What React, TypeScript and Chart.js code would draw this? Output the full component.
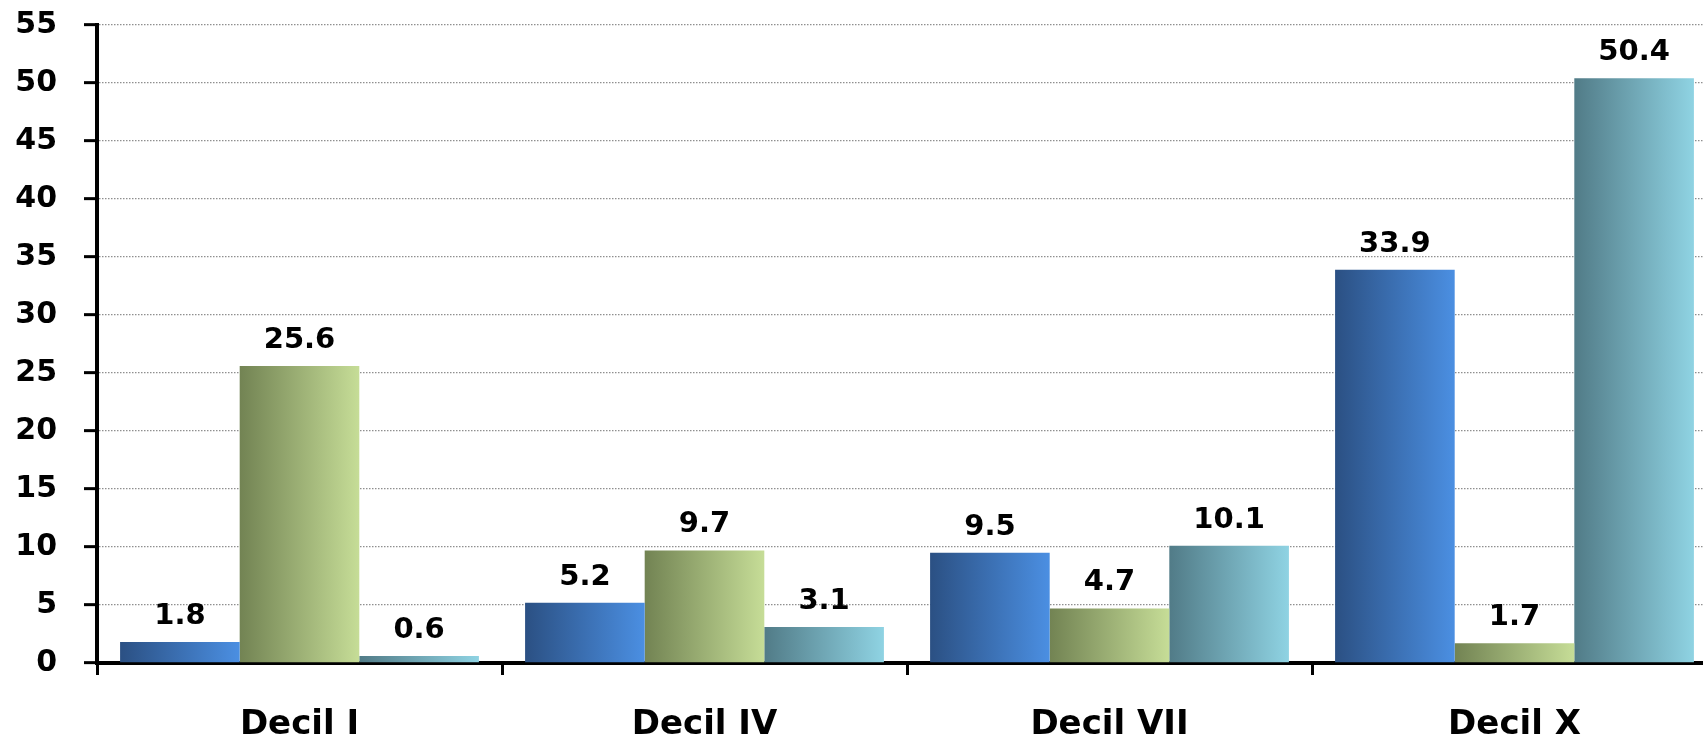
import React, { useEffect, useRef } from "react";
import { Chart, registerables } from "chart.js";

Chart.register(...registerables);

const categories = ["Decil I", "Decil IV", "Decil VII", "Decil X"];
const seriesA = [1.8, 5.2, 9.5, 33.9];
const seriesB = [25.6, 9.7, 4.7, 1.7];
const seriesC = [0.6, 3.1, 10.1, 50.4];
const seriesNames = ["Serie 1", "Serie 2", "Serie 3"];
const gradients: [string, string][] = [
  ["#2b5083", "#4b8fe2"],
  ["#728353", "#c6dd97"],
  ["#517b87", "#8fd3e3"],
];

const CAT_PCT = 0.886;
const FONT = "'DejaVu Sans', Verdana, sans-serif";

function barGradient(dsIndex: number) {
  return (ctx: any) => {
    const chart = ctx.chart;
    const x = chart.scales?.x;
    if (!x || ctx.dataIndex === undefined) return gradients[dsIndex][1];
    const n = categories.length;
    const catW = (x.right - x.left) / n;
    const groupW = catW * CAT_PCT;
    const barW = groupW / 3;
    const center = x.getPixelForValue(ctx.dataIndex);
    const left = center - groupW / 2 + dsIndex * barW;
    if (!isFinite(left) || !isFinite(barW) || barW <= 0) return gradients[dsIndex][1];
    const g = chart.ctx.createLinearGradient(left, 0, left + barW, 0);
    g.addColorStop(0, gradients[dsIndex][0]);
    g.addColorStop(1, gradients[dsIndex][1]);
    return g;
  };
}

const valueLabels = {
  id: "valueLabels",
  afterDatasetsDraw(chart: any) {
    const c = chart.ctx;
    c.save();
    c.font = `bold 29px ${FONT}`;
    c.fillStyle = "#000";
    c.textAlign = "center";
    c.textBaseline = "alphabetic";
    chart.data.datasets.forEach((ds: any, i: number) => {
      const meta = chart.getDatasetMeta(i);
      meta.data.forEach((bar: any, j: number) => {
        c.fillText(ds.data[j].toFixed(1), bar.x, bar.y - 18);
      });
    });
    c.restore();
  },
};

export default function App() {
  const ref = useRef<HTMLCanvasElement>(null);
  useEffect(() => {
    if (!ref.current) return;
    const allSeries = [seriesA, seriesB, seriesC];
    const chart = new Chart(ref.current, {
      type: "bar",
      data: {
        labels: categories,
        datasets: allSeries.map((d, i) => ({
          label: seriesNames[i],
          data: d,
          backgroundColor: barGradient(i),
          borderWidth: 0,
          categoryPercentage: CAT_PCT,
          barPercentage: 1,
        })),
      },
      options: {
        animation: false,
        responsive: false,
        devicePixelRatio: 1,
        layout: { padding: { top: 25, right: 3, left: 0, bottom: 0 } },
        plugins: { legend: { display: false }, tooltip: { enabled: false } },
        scales: {
          x: {
            offset: true,
            grid: {
              display: true,
              offset: true,
              drawOnChartArea: false,
              drawTicks: true,
              tickLength: 12,
              tickWidth: 3,
              tickColor: "#000",
              color: "#000",
            },
            border: { display: true, color: "#000", width: 4 },
            ticks: {
              color: "#000",
              padding: 30,
              font: { family: FONT, size: 34, weight: "bold" },
              maxRotation: 0,
            },
            afterFit(scale: any) {
              scale.height = 75;
              scale.paddingLeft = 0;
              scale.paddingRight = 0;
            },
          },
          y: {
            min: 0,
            max: 55,
            ticks: {
              stepSize: 5,
              color: "#000",
              padding: 27,
              font: { family: FONT, size: 30, weight: "bold" },
            },
            grid: {
              color: (ctx: any) => (ctx.tick && ctx.tick.value === 0 ? "rgba(0,0,0,0)" : "#8f8f8f"),
              lineWidth: 1.3,
              tickLength: 13,
              tickWidth: 3,
              tickColor: "#000",
            },
            border: { display: true, color: "#000", width: 4, dash: [1.5, 1.5] },
            afterFit(scale: any) {
              scale.width = 97;
              scale.paddingTop = 0;
              scale.paddingBottom = 0;
            },
          },
        },
      },
      plugins: [valueLabels],
    });
    return () => chart.destroy();
  }, []);
  return (
    <div
      style={{
        position: "fixed",
        left: 0,
        top: 0,
        width: 1703,
        height: 738,
        overflow: "hidden",
        background: "#fff",
      }}
    >
      <canvas ref={ref} width={1720} height={738} style={{ display: "block", width: 1720, height: 738 }} />
    </div>
  );
}
